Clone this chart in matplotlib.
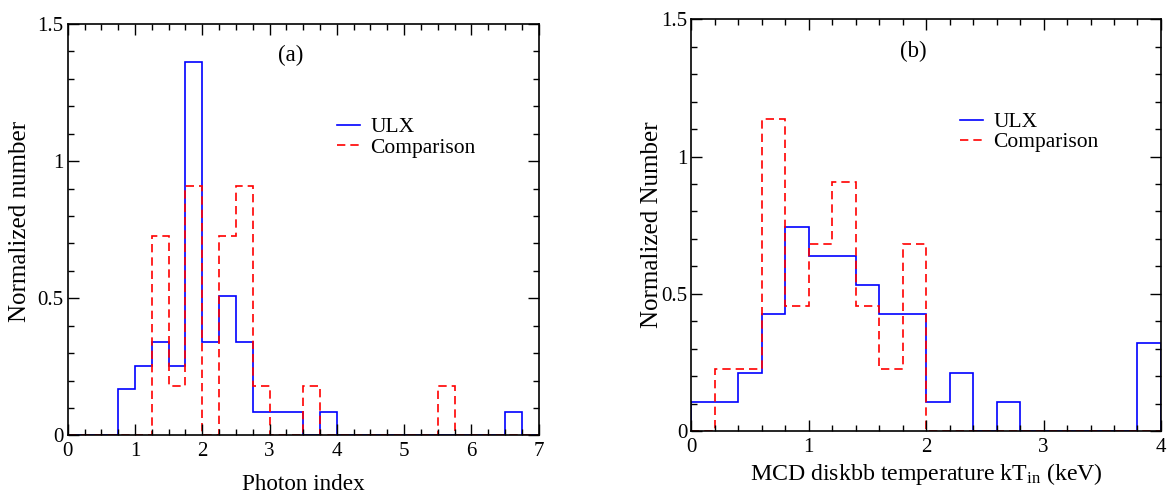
import numpy as np
import matplotlib
matplotlib.use("Agg")
import matplotlib.pyplot as plt
from matplotlib.ticker import MultipleLocator, FuncFormatter

plt.rcParams['font.family'] = ['Liberation Serif', 'DejaVu Serif']
plt.rcParams['mathtext.fontset'] = 'custom'
plt.rcParams['mathtext.rm'] = 'Liberation Serif'
plt.rcParams['mathtext.it'] = 'Liberation Serif:italic'

# (a) photon index, bins of 0.25 from 0 to 7
edges_a = np.arange(0, 7.01, 0.25)
ulx_a = [0, 0, 0, 0.17, 0.255, 0.34, 0.255, 1.36, 0.34, 0.51, 0.34, 0.085, 0.085, 0.085,
         0, 0.085, 0, 0, 0, 0, 0, 0, 0, 0, 0, 0, 0.085, 0]
comp_a = [0, 0, 0, 0, 0, 0.727, 0.182, 0.909, 0, 0.727, 0.909, 0.182, 0, 0,
          0.182, 0, 0, 0, 0, 0, 0, 0, 0.182, 0, 0, 0, 0, 0]

# (b) MCD disk temperature, bins of 0.2 keV from 0 to 4
edges_b = np.arange(0, 4.001, 0.2)
ulx_b = [0.106, 0.106, 0.213, 0.425, 0.745, 0.638, 0.638, 0.532, 0.425, 0.425,
         0.106, 0.213, 0, 0.106, 0, 0, 0, 0, 0, 0.319]
comp_b = [0, 0.227, 0.227, 1.136, 0.455, 0.682, 0.909, 0.455, 0.227, 0.682,
          0, 0, 0, 0, 0, 0, 0, 0, 0, 0]

fig = plt.figure(figsize=(11.67, 4.96), dpi=100)
ax1 = fig.add_axes([0.0580, 0.122, 0.4036, 0.8296])
ax2 = fig.add_axes([0.5925, 0.131, 0.4023, 0.8300])

panels = [
    (ax1, edges_a, ulx_a, comp_a, 7, 0.25, "(a)", "Photon index", 16.7, 9,
     "Normalized number", -0.078, 0.52, 0.773),
    (ax2, edges_b, ulx_b, comp_b, 4, 0.2, "(b)",
     r"MCD diskbb temperature kT$_{\rm in}$ (keV)", 17.2, 3,
     "Normalized Number", -0.061, 0.50, 0.775),
]

for (ax, edges, ulx, comp, xmax, xminor, tag, xlab, xlfs, xlpad,
     ylab, ylx, yly, legy) in panels:
    ax.stairs(ulx, edges, baseline=0, color="#0000ff", lw=1.2, label="ULX")
    ax.stairs(comp, edges, baseline=0, color="#ff0000", lw=1.2,
              linestyle=(0, (5, 3)), label="Comparison")

    ax.set_xlim(0, xmax)
    ax.set_ylim(0, 1.5)
    ax.xaxis.set_major_locator(MultipleLocator(1))
    ax.xaxis.set_minor_locator(MultipleLocator(xminor))
    ax.yaxis.set_major_locator(MultipleLocator(0.5))
    ax.yaxis.set_minor_locator(MultipleLocator(0.1))
    ax.yaxis.set_major_formatter(FuncFormatter(lambda v, p: f"{v:g}"))
    ax.tick_params(which="both", direction="in", top=True, right=True, labelsize=15)
    ax.tick_params(which="major", length=8, width=1.0)
    ax.tick_params(which="minor", length=4, width=1.0)
    ax.tick_params(axis="x", pad=5)
    ax.tick_params(axis="y", pad=3)
    for s in ax.spines.values():
        s.set_linewidth(1.2)

    ax.text(0.473, 0.923, tag, transform=ax.transAxes, ha="center", va="center",
            fontsize=16.5)
    ax.set_xlabel(xlab, fontsize=xlfs, labelpad=xlpad)
    ax.set_ylabel(ylab, fontsize=18)
    ax.yaxis.set_label_coords(ylx, yly)

    ax.legend(loc="upper left", bbox_to_anchor=(0.572, legy), frameon=False, fontsize=15.5,
              handlelength=1.05, handletextpad=0.5, labelspacing=0.0, borderpad=0,
              borderaxespad=0)

plt.savefig("out.png", dpi=100)
